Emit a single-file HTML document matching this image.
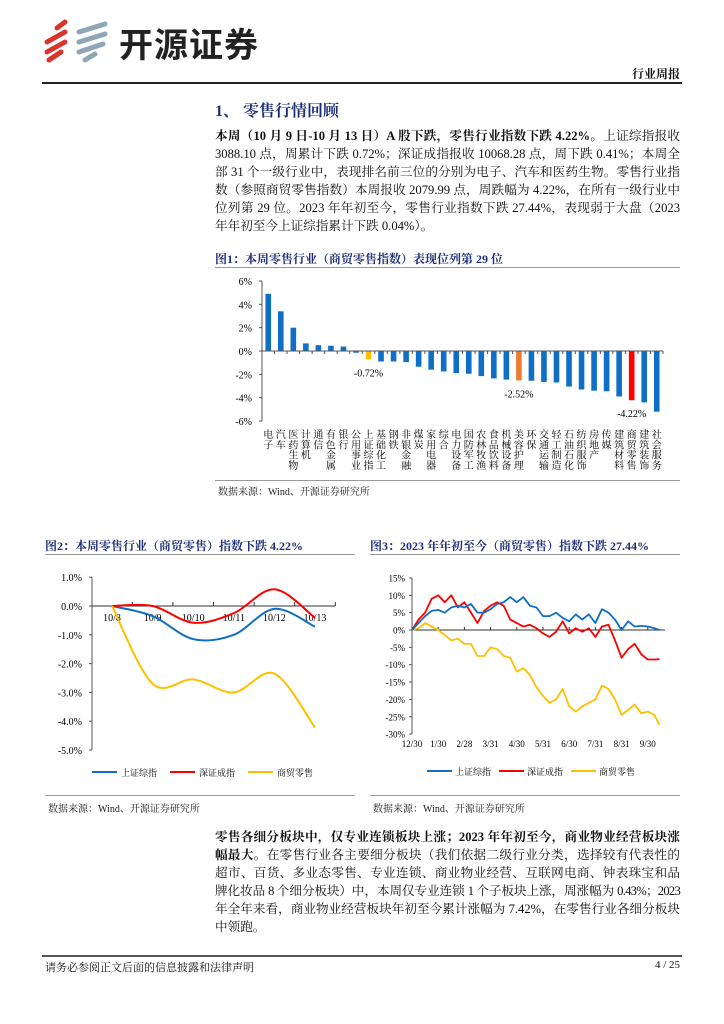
<!DOCTYPE html>
<html><head><meta charset="utf-8">
<style>
body{margin:0;width:724px;height:1024px;background:#fff;position:relative;overflow:hidden;font-family:"Liberation Serif","Noto Serif CJK SC",serif;color:#111}
.abs{position:absolute}
.p{position:absolute;left:215px;width:465px;font-size:12.6px;line-height:18px}
.l{text-align:justify;text-align-last:justify;white-space:nowrap;height:18px}
.last{text-align-last:left}
.tight{letter-spacing:-0.75px}
.ft{font-size:12px;color:#1d2f7a;font-weight:bold}
.src{font-size:10px;color:#222}
</style></head><body>
<div class="abs" style="left:35px;top:18px;width:240px;height:46px">
<svg width="80" height="46">
<path d="M30 4 L22 10 M30 14 L12 24 M30 24 L12 34 M26 34 L14 42" stroke="#d9342b" stroke-width="5" fill="none" stroke-linecap="round"/>
<path d="M70 6 L44 14 M70 16 L44 24 M68 26 L44 34 M60 36 L50 42" stroke="#8fa6b6" stroke-width="5" fill="none" stroke-linecap="round"/>
</svg>
<span class="abs" style="left:84px;top:0;font:bold 34px 'Noto Sans CJK SC',sans-serif;color:#222;letter-spacing:1px">开源证券</span>
</div>
<div class="abs" style="right:44px;top:65px;font-size:12px;font-weight:bold">行业周报</div>
<div class="abs" style="left:42px;top:82px;width:640px;height:2px;background:#222"></div>
<div class="abs" style="left:215px;top:98px;font-size:16px;font-weight:bold;color:#1d2f7a">1、 零售行情回顾</div>
<div class="p" style="top:127px">
<div class="l"><b>本周（10 月 9 日-10 月 13 日）A 股下跌，零售行业指数下跌 4.22%。</b>上证综指报收</div>
<div class="l">3088.10 点，周累计下跌 0.72%；深证成指报收 10068.28 点，周下跌 0.41%；本周全</div>
<div class="l">部 31 个一级行业中，表现排名前三位的分别为电子、汽车和医药生物。零售行业指</div>
<div class="l">数（参照商贸零售指数）本周报收 2079.99 点，周跌幅为 4.22%，在所有一级行业中</div>
<div class="l">位列第 29 位。2023 年年初至今，零售行业指数下跌 27.44%，表现弱于大盘（2023</div>
<div class="l last">年年初至今上证综指累计下跌 0.04%）。</div>
</div>
<div class="abs ft" style="left:215px;top:250px">图1：本周零售行业（商贸零售指数）表现位列第 29 位</div>
<div class="abs" style="left:215px;top:267px;width:465px;height:1px;background:#999"></div>
<svg class="abs" style="left:0;top:0" width="724" height="1024" id="c1"></svg>
<div class="abs" style="left:215px;top:480px;width:465px;height:1px;background:#999"></div>
<div class="abs src" style="left:218px;top:483px">数据来源：Wind、开源证券研究所</div>

<div class="abs ft" style="left:45px;top:537px">图2：本周零售行业（商贸零售）指数下跌 4.22%</div>
<div class="abs" style="left:45px;top:554px;width:310px;height:1px;background:#999"></div>
<div class="abs ft" style="left:370px;top:537px">图3：2023 年年初至今（商贸零售）指数下跌 27.44%</div>
<div class="abs" style="left:370px;top:554px;width:310px;height:1px;background:#999"></div>
<div class="abs" style="left:45px;top:795px;width:310px;height:1px;background:#999"></div>
<div class="abs src" style="left:48px;top:800px">数据来源：Wind、开源证券研究所</div>
<div class="abs" style="left:370px;top:795px;width:310px;height:1px;background:#999"></div>
<div class="abs src" style="left:373px;top:800px">数据来源：Wind、开源证券研究所</div>

<div class="p" style="top:828px">
<div class="l"><b>零售各细分板块中，仅专业连锁板块上涨；2023 年年初至今，商业物业经营板块涨</b></div>
<div class="l"><b>幅最大。</b>在零售行业各主要细分板块（我们依据二级行业分类，选择较有代表性的</div>
<div class="l">超市、百货、多业态零售、专业连锁、商业物业经营、互联网电商、钟表珠宝和品</div>
<div class="l tight">牌化妆品 8 个细分板块）中，本周仅专业连锁 1 个子板块上涨，周涨幅为 0.43%；2023</div>
<div class="l">年全年来看，商业物业经营板块年初至今累计涨幅为 7.42%，在零售行业各细分板块</div>
<div class="l last">中领跑。</div>
</div>
<div class="abs" style="left:42px;top:955px;width:640px;height:2px;background:#555"></div>
<div class="abs" style="left:45px;top:959px;font-size:11px">请务必参阅正文后面的信息披露和法律声明</div>
<div class="abs" style="right:44px;top:959px;font-size:11px">4 / 25</div>

<script>
const barCats=["电子","汽车","医药生物","计算机","通信","有色金属","银行","公用事业","上证综指","基础化工","钢铁","非银金融","煤炭","家用电器","综合","电力设备","国防军工","农林牧渔","食品饮料","机械设备","美容护理","环保","交通运输","轻工制造","石油石化","纺织服饰","房地产","传媒","建筑材料","商贸零售","建筑装饰","社会服务"];
const barVals=[4.9,3.4,2.0,0.65,0.5,0.45,0.38,-0.15,-0.72,-0.9,-0.9,-0.95,-1.35,-1.6,-1.75,-1.9,-1.95,-2.15,-2.35,-2.45,-2.52,-2.55,-2.65,-2.7,-3.05,-3.3,-3.4,-3.45,-3.9,-4.22,-4.4,-5.2];
const barTicks=[6,4,2,0,-2,-4,-6];
const wkCats=["10/8","10/9","10/10","10/11","10/12","10/13"];
const wkSH=[0,-0.35,-1.15,-1.0,-0.1,-0.72];
const wkSZ=[0,0,-0.58,-0.25,0.58,-0.41];
const wkRT=[0,-2.7,-2.55,-3.0,-2.35,-4.22];
const wkTicks=[1,0,-1,-2,-3,-4,-5];
const ytdMonths=["12/30","1/30","2/28","3/31","4/30","5/31","6/30","7/31","8/31","9/30"];
const ytdT=[0,0.25,0.5,0.75,1,1.25,1.5,1.75,2,2.25,2.5,2.75,3,3.25,3.5,3.75,4,4.25,4.5,4.75,5,5.25,5.5,5.75,6,6.25,6.5,6.75,7,7.25,7.5,7.75,8,8.25,8.5,8.75,9,9.25,9.45];
const ytdSH=[0,2,4,5.5,5.8,5,6.5,7,6.5,7.5,5,5,6,7.5,8,9.5,8,9.5,7,6.5,4,4,5,3.5,2.5,4.5,3,4.5,2,6,5,3,0,2.5,1,1.2,1,0.5,0];
const ytdSZ=[0,3,5,9,10,8,10,6.5,8,5,2,5.5,7,8,7,3,2,1,1.5,0.5,-1,-2,-0.5,2.5,-1,0.5,-0.5,0.5,-2,1,1.5,-3,-8,-5.5,-4,-7,-8.5,-8.5,-8.4];
const ytdRT=[0,0.5,2,1,0,-1.5,-3,-2.5,-4,-4,-7.5,-7.5,-5,-5.5,-7.5,-8,-12,-11,-13,-16.5,-19,-21,-20,-17,-22,-23.5,-22,-21,-20,-16,-17,-20,-24.5,-23,-21.5,-24,-23.5,-24.5,-27.4];
const ytdTicks=[15,10,5,0,-5,-10,-15,-20,-25,-30];

const NS="http://www.w3.org/2000/svg";
const svg=document.getElementById('c1');
function mk(tag,attrs,parent){const e=document.createElementNS(NS,tag);for(const k in attrs)e.setAttribute(k,attrs[k]);(parent||svg).appendChild(e);return e;}
const FS='"Liberation Serif","Noto Serif CJK SC",serif';

// ---- bar chart
const bx0=262,bx1=663,by=v=>351-v*11.67,band=(bx1-bx0)/barCats.length;
let ax=mk('line',{x1:bx0,y1:by(6),x2:bx0,y2:by(-6),stroke:'#555'});

barTicks.forEach(t=>{const tx=mk('text',{x:252,y:by(t)+4,'text-anchor':'end','font-size':10,'font-family':FS});tx.textContent=t+'%';

mk('line',{x1:bx0-3,x2:bx0,y1:by(t),y2:by(t),stroke:'#555'});});
barCats.forEach((c,i)=>{const v=barVals[i],cx=bx0+band*(i+0.5);
let col='#0f6fc6';if(c==='上证综指')col='#ffc000';if(c==='美容护理')col='#ed7d31';if(c==='商贸零售')col='#ff0000';
const r=mk('rect',{x:cx-2.8,y:Math.min(by(0),by(v)),width:5.6,height:Math.abs(by(v)-by(0)),fill:col});

[...c].forEach((ch,k)=>{const t=mk('text',{x:cx,y:438+k*10.3,'text-anchor':'middle','font-size':10,'font-family':FS});t.textContent=ch;});
});
let xa=mk('line',{x1:bx0,y1:by(0),x2:bx1,y2:by(0),stroke:'#555'});

for(let i=0;i<=barCats.length;i++)mk('line',{x1:bx0+band*i,x2:bx0+band*i,y1:by(0),y2:by(0)+3,stroke:'#555'});
["上证综指","美容护理","商贸零售"].forEach(n=>{const i=barCats.indexOf(n),v=barVals[i];
const t=mk('text',{x:bx0+band*(i+0.5),y:by(v)+17,'text-anchor':'middle','font-size':10,'font-family':FS});t.textContent=v.toFixed(2)+'%';
});

// ---- weekly chart
const wx=i=>112+i*40.6,wy=v=>606-v*28.8;
mk('line',{x1:92,y1:wy(1),x2:92,y2:wy(-5),stroke:'#555'});
wkTicks.forEach(t=>{const tx=mk('text',{x:82,y:wy(t)+4,'text-anchor':'end','font-size':10,'font-family':FS});tx.textContent=t.toFixed(1)+'%';

mk('line',{x1:89,x2:92,y1:wy(t),y2:wy(t),stroke:'#555'});});
mk('line',{x1:92,y1:wy(0),x2:335,y2:wy(0),stroke:'#333'});
for(let i=0;i<=6;i++){const x=wx(i)-20.3;if(x>=92)mk('line',{x1:x,x2:x,y1:wy(0)-4,y2:wy(0),stroke:'#333'});}
wkCats.forEach((c,i)=>{const t=mk('text',{x:wx(i),y:621,'text-anchor':'middle','font-size':10,'font-family':FS});t.textContent=c;
});
function smooth(xs,ys){let d='M'+xs[0]+' '+ys[0];for(let i=0;i<xs.length-1;i++){const p0=i?i-1:i,p3=i+2<xs.length?i+2:i+1;
const c1x=xs[i]+(xs[i+1]-xs[p0])/6,c1y=ys[i]+(ys[i+1]-ys[p0])/6,c2x=xs[i+1]-(xs[p3]-xs[i])/6,c2y=ys[i+1]-(ys[p3]-ys[i])/6;
d+=` C${c1x} ${c1y} ${c2x} ${c2y} ${xs[i+1]} ${ys[i+1]}`;}return d;}
[[wkSH,'#0f6fc6','weekly-line-shanghai'],[wkSZ,'#ff0000','weekly-line-shenzhen'],[wkRT,'#ffc000','weekly-line-retail']].forEach(([a,c,n])=>{
const p=mk('path',{d:smooth(a.map((_,i)=>wx(i)),a.map(wy)),stroke:c,'stroke-width':2,fill:'none'});
});
const legs=["上证综指","深证成指","商贸零售"],lc=['#0f6fc6','#ff0000','#ffc000'];
legs.forEach((l,i)=>{const x=92+i*78;mk('line',{x1:x,x2:x+25,y1:772,y2:772,stroke:lc[i],'stroke-width':2});
const t=mk('text',{x:x+29,y:776,'font-size':9,'font-family':FS});t.textContent=l;
});

// ---- YTD chart
const yx=m=>412+m*26.2,yy=v=>630-v*3.47;
mk('line',{x1:412,y1:yy(15),x2:412,y2:yy(-30),stroke:'#555'});
ytdTicks.forEach(t=>{const tx=mk('text',{x:405,y:yy(t)+3.5,'text-anchor':'end','font-size':9,'font-family':FS});tx.textContent=t+'%';

mk('line',{x1:409,x2:412,y1:yy(t),y2:yy(t),stroke:'#555'});});
mk('line',{x1:412,y1:yy(0),x2:665,y2:yy(0),stroke:'#333'});
ytdMonths.forEach((m,i)=>{mk('line',{x1:yx(i),x2:yx(i),y1:yy(0)-3,y2:yy(0),stroke:'#333'});
const t=mk('text',{x:yx(i),y:747,'text-anchor':'middle','font-size':9,'font-family':FS});t.textContent=m;
});
[[ytdRT,'#ffc000','ytd-line-retail'],[ytdSZ,'#ff0000','ytd-line-shenzhen'],[ytdSH,'#0f6fc6','ytd-line-shanghai']].forEach(([a,c,n])=>{
const p=mk('polyline',{points:a.map((v,i)=>yx(ytdT[i])+','+yy(v)).join(' '),stroke:c,'stroke-width':1.8,fill:'none','stroke-linejoin':'round'});
});
legs.forEach((l,i)=>{const x=427+i*72;mk('line',{x1:x,x2:x+25,y1:771,y2:771,stroke:lc[i],'stroke-width':2});
const t=mk('text',{x:x+28,y:775,'font-size':9,'font-family':FS});t.textContent=l;
});
</script>
</body></html>
